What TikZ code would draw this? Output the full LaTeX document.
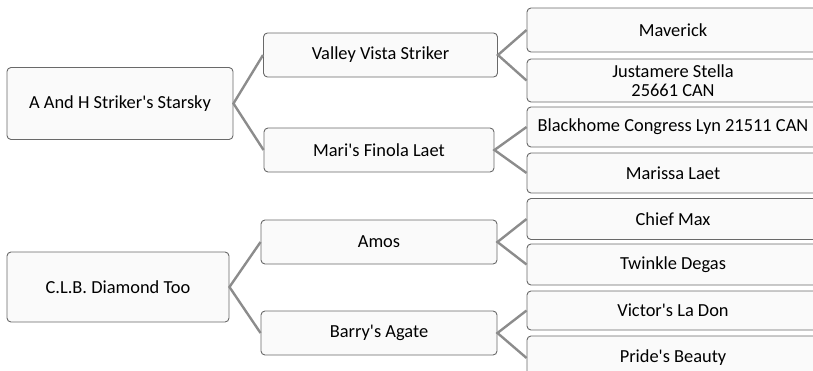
\documentclass[tikz,border=0pt]{standalone}
\usepackage{fontspec}
\setmainfont{Carlito}
\usepackage{tikz}
\usepackage{xcolor}
\definecolor{linegray}{RGB}{140,140,140}
\definecolor{boxgray}{RGB}{105,105,105}
\newcommand{\ap}{\textquotesingle}

\begin{document}
\begin{tikzpicture}[x=1pt, y=-1pt,
	horse/.style={draw=boxgray, line width=0.9pt, fill=white!98!black, rounded corners=4pt,
		align=center, inner sep=0pt, font=\fontsize{18.4}{19.5}\selectfont},
	sire/.style={horse, minimum width=226, minimum height=72},
	gen/.style={horse, minimum width=234, minimum height=44},
	tip/.style={horse, minimum width=292, minimum height=41},
	link/.style={draw=linegray, line width=2.4pt}]
				\useasboundingbox (0, 0) rectangle (813, 370);
				% first pedigree
				\node[sire] (starsky) at (120, 103.5) {A And H Striker\ap s Starsky};
				\node[gen] (valley) at (380.5, 55) {Valley Vista Striker};
				\node[gen, minimum width=230] (mari) at (379, 150) {Mari\ap s Finola Laet};
				\node[tip, minimum height=44] (maverick) at (673, 30) {Maverick};
				\node[tip, minimum height=43] (stella) at (673, 80.5) {Justamere Stella\\25661 CAN};
				\node[tip, minimum height=40] (lyn) at (673, 127) {Blackhome Congress Lyn 21511 CAN};
				\node[tip, minimum height=40] (marissa) at (673, 173) {Marissa Laet};
				% second pedigree
				\node[sire, minimum width=222, minimum height=70] (diamond) at (118, 287) {C.L.B. Diamond Too};
				\node[gen, minimum width=236] (amos) at (379, 242) {Amos};
				\node[gen, minimum width=236] (barry) at (379, 333) {Barry\ap s Agate};
				\node[tip] (chief) at (673, 219) {Chief Max};
				\node[tip] (twinkle) at (673, 264.5) {Twinkle Degas};
				\node[tip, minimum height=39] (victor) at (673, 310.5) {Victor\ap s La Don};
				\node[tip, minimum height=44] (pride) at (673, 358) {Pride\ap s Beauty};
				% connectors
				\path[link] (valley.west) -- (starsky.east) -- (mari.west);
				\path[link] (maverick.west) -- (valley.east) -- (stella.west);
				\path[link] (lyn.west) -- (mari.east) -- (marissa.west);
				\path[link] (amos.west) -- (diamond.east) -- (barry.west);
				\path[link] (chief.west) -- (amos.east) -- (twinkle.west);
				\path[link] (victor.west) -- (barry.east) -- (pride.west);
			\end{tikzpicture}
\end{document}
